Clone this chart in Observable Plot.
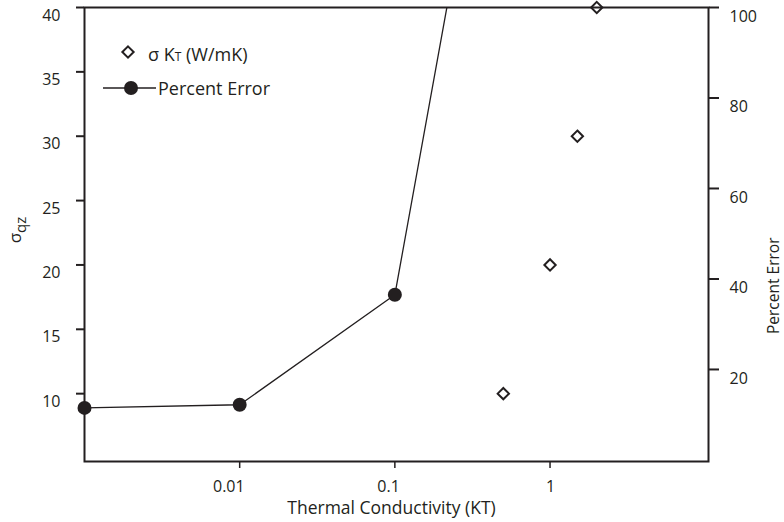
<!DOCTYPE html>
<html>
<head>
<meta charset="utf-8">
<script src="https://cdn.jsdelivr.net/npm/d3@7"></script>
<script src="https://cdn.jsdelivr.net/npm/@observablehq/plot@0.6"></script>
<style>
  html, body { margin: 0; padding: 0; background: #fff; }
  #chart { width: 784px; height: 522px; }
</style>
</head>
<body>
<div id="chart"></div>
<script>
// σqz against thermal conductivity KT (W/mK)
const conductivity = [0.5, 1, 1.5, 2];
const sigmaQz = [10, 20, 30, 40];

// Percent error of the fit against KT (last value runs off the top of the chart)
const errorKT = [0.001, 0.01, 0.1, 1];
const percentError = [11.5, 12.2, 36.5, 226];

// Axis ticks
const xTicks = [0.01, 0.1, 1];
const xTickLabels = ["0.01", "0.1", "1"];
const sigmaTicks = [10, 15, 20, 25, 30, 35, 40];
const percentTicks = [20, 40, 60, 80, 100];

const ink = "#231f20";
const font = "'Open Sans', 'Noto Sans', sans-serif";
const diamondR = 5.1;

// The percent-error axis on the right shares the σ scale through a linear map
const pctBase = 4.85, pctSlope = 0.3515;
const pctToSigma = p => pctBase + pctSlope * p;
const sigmaToPct = s => Math.round((s - pctBase) / pctSlope);

const sigmaRows = conductivity.map((k, i) => ({k, s: sigmaQz[i]}));
const errorRows = errorKT.map((k, i) => ({k, p: percentError[i], s: pctToSigma(percentError[i])}));

const plot = Plot.plot({
  width: 784,
  height: 522,
  marginTop: 7,
  marginBottom: 61,
  marginLeft: 84,
  marginRight: 76,
  style: {fontFamily: font, fontSize: "16px", color: ink, background: "white"},
  x: {type: "log", domain: [0.001, 10.5]},
  y: {domain: [4.73, 40]},
  marks: [
    Plot.frame({stroke: ink, strokeWidth: 2}),

    // left σ axis: ticks, then labels set a little below each tick
    Plot.axisY(sigmaTicks, {anchor: "left", tickSize: 8, fill: "none", stroke: ink, strokeWidth: 2, label: null}),
    Plot.axisY(sigmaTicks, {anchor: "left", tickSize: 0, tickPadding: 24, dy: 8, fill: ink, fontSize: 16, label: null}),

    // right percent-error axis
    Plot.axisY(percentTicks.map(pctToSigma), {anchor: "right", tickSize: 10, fill: "none", stroke: ink, strokeWidth: 2, label: null}),
    Plot.axisY(percentTicks.map(pctToSigma), {anchor: "right", tickSize: 0, tickPadding: 21, dy: 9, fill: ink, fontSize: 16,
      tickFormat: s => String(sigmaToPct(s)), label: null}),

    // bottom log axis
    Plot.axisX(xTicks, {anchor: "bottom", tickSize: 7, fill: "none", stroke: ink, strokeWidth: 1.5, label: null}),
    Plot.axisX(xTicks, {anchor: "bottom", tickSize: 0, tickPadding: 19, textAnchor: "end", dx: 5, fill: ink, fontSize: 16,
      tickFormat: d => xTickLabels[xTicks.indexOf(d)], label: null}),

    // axis titles
    Plot.text(["Thermal Conductivity (KT)"], {frameAnchor: "bottom", dy: 47, dx: -5, lineAnchor: "middle", fontSize: 17.5, fill: ink}),
    Plot.text(["Percent Error"], {frameAnchor: "right", dx: 66, dy: 3, rotate: -90, lineAnchor: "middle", fontSize: 15.5, fill: ink}),

    // percent error line with filled markers
    Plot.line(errorRows, {x: "k", y: "s", stroke: ink, strokeWidth: 1.3, clip: true}),
    Plot.dot(errorRows.filter(d => d.p <= 100), {x: "k", y: "s", r: 7, fill: ink, stroke: "none"}),

    // σ KT open diamonds
    Plot.dot(sigmaRows, {x: "k", y: "s", symbol: "diamond2", r: diamondR, stroke: ink, strokeWidth: 2, fill: "none"})
  ]
});

const svg = d3.select(plot);

// left axis title σ with subscript qz
const yTitle = svg.append("text")
  .attr("transform", "translate(21,230) rotate(-90)")
  .attr("text-anchor", "middle")
  .attr("fill", ink)
  .style("font-family", font)
  .style("font-size", "17px");
yTitle.append("tspan").text("σ");
yTitle.append("tspan").attr("dy", "0.3em").style("font-size", "15px").text("qz");

// legend
const legend = svg.append("g")
  .attr("fill", ink)
  .attr("text-anchor", "start")
  .style("font-family", font)
  .style("font-size", "18px");
legend.append("path")
  .attr("transform", "translate(128,52)")
  .attr("d", d3.symbol(d3.symbolDiamond2, Math.PI * diamondR * diamondR)())
  .attr("fill", "none").attr("stroke", ink).attr("stroke-width", 2);
const l1 = legend.append("text").attr("x", 148).attr("y", 61);
l1.append("tspan").text("σ K");
l1.append("tspan").style("font-size", "12px").text("T");
l1.append("tspan").text(" (W/mK)");
legend.append("line").attr("x1", 103).attr("x2", 156).attr("y1", 88).attr("y2", 88)
  .attr("stroke", ink).attr("stroke-width", 1.3);
legend.append("circle").attr("cx", 131).attr("cy", 88).attr("r", 7).attr("fill", ink);
legend.append("text").attr("x", 158).attr("y", 94.5).text("Percent Error");

document.getElementById("chart").appendChild(plot);
</script>
</body>
</html>
